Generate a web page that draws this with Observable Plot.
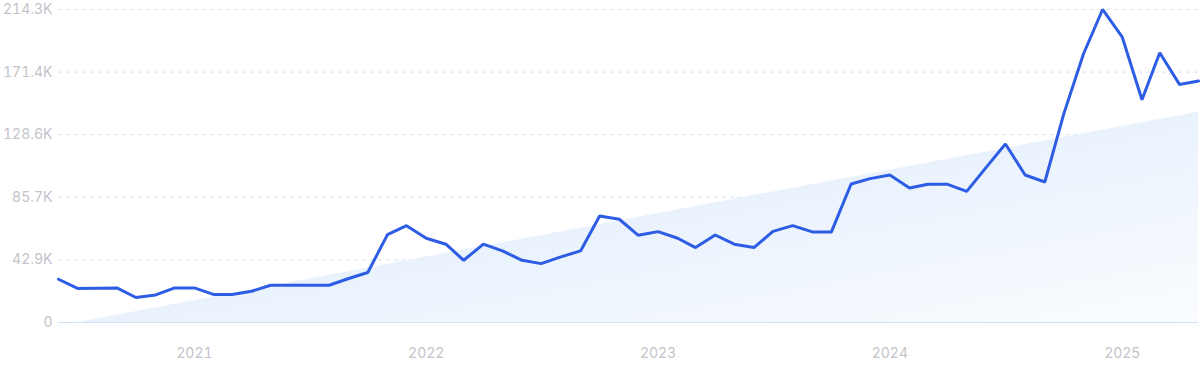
<!DOCTYPE html>
<html>
<head>
<meta charset="utf-8">
<script src="https://cdn.jsdelivr.net/npm/d3@7"></script>
<script src="https://cdn.jsdelivr.net/npm/@observablehq/plot@0.6"></script>
<style>
  html, body { margin: 0; padding: 0; background: #fff; }
  #chart svg { display: block; }
</style>
</head>
<body>
<div id="chart"></div>
<script>
// Monthly series, starting June 2020
const startMonth = "2020-06-01";
const values = [
  29600, 23300, 23500, 23700, 17100, 18900, 23700, 23700, 19100, 19100,
  21400, 25500, 25500, 25500, 25500, 30100, 34200, 60200, 66300, 57700,
  53600, 42600, 53600, 49000, 42600, 40300, 44900, 49000, 72900, 70700,
  59700, 62200, 57700, 51300, 59900, 53600, 51300, 62400, 66300, 62000,
  62000, 94800, 98500, 101000, 92100, 94600, 94600, 89800, 106400, 122200,
  101000, 96200, 143000, 184000, 214300, 195300, 152500, 184700, 163000, 165300
];
// Trend area endpoints
const trendDates = ["2020-07-01", "2025-05-01"];
const trendValues = [0, 144000];
// Axis ticks
const yTicks = [0, 42857, 85714, 128571, 171429, 214286];
const yTickLabels = ["0", "42.9K", "85.7K", "128.6K", "171.4K", "214.3K"];
const xTicks = ["2021-01-01", "2022-01-01", "2023-01-01", "2024-01-01", "2025-01-01"];
const xTickLabels = ["2021", "2022", "2023", "2024", "2025"];

const start = new Date(startMonth);
const series = values.map((v, i) => ({date: d3.utcMonth.offset(start, i), value: v}));
const trend = trendDates.map((d, i) => ({date: new Date(d), value: trendValues[i]}));
const xTickDates = xTicks.map(d => new Date(d));

const gradientDefs = () => {
  const defs = d3.create("svg:defs");
  const g = defs.append("linearGradient")
    .attr("id", "trendGrad")
    .attr("x1", "0").attr("y1", "0").attr("x2", "1").attr("y2", "1");
  g.append("stop").attr("offset", "0%").attr("stop-color", "#d9e8fa");
  g.append("stop").attr("offset", "100%").attr("stop-color", "#fafcff");
  return defs.node();
};

const chart = Plot.plot({
  width: 1200,
  height: 371,
  marginLeft: 58,
  marginRight: 2,
  marginTop: 9,
  marginBottom: 49,
  style: {fontFamily: "Inter, 'Noto Sans', sans-serif", fontSize: "14px", color: "#c3c3cb", background: "#fff"},
  x: {type: "utc", domain: [series[0].date, series[series.length - 1].date], label: null},
  y: {domain: [0, yTicks[yTicks.length - 1]], label: null},
  marks: [
    gradientDefs,
    Plot.ruleY(yTicks.slice(1), {stroke: "#d8e3f4", strokeWidth: 1, strokeDasharray: "4,4"}),
    Plot.areaY(trend, {x: "date", y: "value", fill: "url(#trendGrad)"}),
    Plot.ruleY([0], {stroke: "#cfe3f8", strokeWidth: 1.2}),
    Plot.line(series, {x: "date", y: "value", stroke: "#2d5de4", strokeWidth: 3, strokeLinejoin: "miter"}),
    Plot.axisY(yTicks, {label: null, tickSize: 0, tickPadding: 6, tickFormat: (d, i) => yTickLabels[i], fill: "#c3c3cb", fontSize: 14}),
    Plot.axisX(xTickDates, {label: null, tickSize: 0, tickPadding: 26, tickFormat: (d, i) => xTickLabels[i], fill: "#c3c3cb", fontSize: 14})
  ]
});
document.getElementById("chart").appendChild(chart);
</script>
</body>
</html>
